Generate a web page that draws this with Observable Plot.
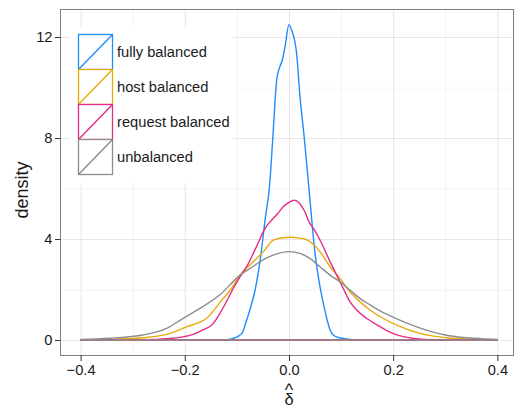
<!DOCTYPE html>
<html>
<head>
<meta charset="utf-8">
<script src="https://cdn.jsdelivr.net/npm/d3@7"></script>
<script src="https://cdn.jsdelivr.net/npm/@observablehq/plot@0.6"></script>
<style>
  html, body { margin: 0; padding: 0; background: #fff; }
  #chart svg { display: block; }
</style>
</head>
<body>
<div id="chart"></div>
<script>
// ---- data ----
const seriesNames = ["fully balanced", "host balanced", "request balanced", "unbalanced"];
const seriesColors = ["#1e8cff", "#e6aa0a", "#e62a89", "#8c8c8c"];

const xFully = [-0.40, -0.13, -0.115, -0.105, -0.095, -0.088, -0.083, -0.075, -0.065, -0.055, -0.045, -0.038, -0.031, -0.0236, -0.0186, -0.0128, -0.0077, 0.0, 0.005, 0.0147, 0.0211, 0.0294, 0.0403, 0.05, 0.0595, 0.066, 0.072, 0.078, 0.085, 0.095, 0.105, 0.115, 0.13, 0.40];
const yFully = [0, 0, 0.02, 0.08, 0.18, 0.35, 0.67, 1.2, 1.98, 3.2, 4.9, 5.94, 8.0, 10.3, 10.76, 11.09, 11.6, 12.49, 12.28, 11.35, 9.64, 8.0, 5.54, 3.43, 2.11, 1.45, 0.9, 0.45, 0.2, 0.1, 0.06, 0.03, 0, 0];

const xHost = [-0.40, -0.34, -0.28, -0.228, -0.196, -0.158, -0.13, -0.11, -0.095, -0.0685, -0.049, -0.03, -0.012, 0.005, 0.021, 0.03, 0.04, 0.0595, 0.079, 0.098, 0.117, 0.136, 0.155, 0.175, 0.207, 0.251, 0.303, 0.35, 0.40];
const yHost = [0, 0.03, 0.09, 0.26, 0.53, 0.86, 1.55, 2.05, 2.55, 3.1, 3.5, 3.96, 4.05, 4.07, 4.03, 4.0, 3.9, 3.5, 2.9, 2.44, 1.91, 1.52, 1.2, 0.92, 0.59, 0.26, 0.09, 0.03, 0.005];

const xRequest = [-0.40, -0.30, -0.26, -0.222, -0.184, -0.165, -0.145, -0.132, -0.12, -0.108, -0.094, -0.08, -0.0685, -0.058, -0.049, -0.04, -0.033, -0.022, -0.011, 0.0, 0.01, 0.02, 0.03, 0.04, 0.047, 0.0595, 0.079, 0.0915, 0.104, 0.117, 0.13, 0.149, 0.175, 0.19, 0.207, 0.24, 0.28, 0.40];
const yRequest = [0, 0, 0.02, 0.07, 0.22, 0.4, 0.66, 1.07, 1.52, 2.0, 2.5, 2.95, 3.43, 3.9, 4.3, 4.6, 4.75, 5.0, 5.28, 5.45, 5.54, 5.42, 5.1, 4.62, 4.42, 3.96, 3.1, 2.57, 2.05, 1.52, 1.19, 0.86, 0.53, 0.35, 0.2, 0.06, 0.01, 0];

const xUnbal = [-0.40, -0.344, -0.28, -0.235, -0.203, -0.171, -0.132, -0.095, -0.07, -0.049, -0.025, 0.0, 0.021, 0.04, 0.0595, 0.079, 0.098, 0.117, 0.136, 0.155, 0.175, 0.207, 0.24, 0.27, 0.30, 0.335, 0.37, 0.40];
const yUnbal = [0.02, 0.07, 0.2, 0.46, 0.86, 1.25, 1.8, 2.55, 2.9, 3.18, 3.4, 3.5, 3.43, 3.23, 2.9, 2.57, 2.31, 1.98, 1.65, 1.4, 1.15, 0.84, 0.56, 0.35, 0.2, 0.1, 0.05, 0.02];

const xTicks = [-0.4, -0.2, 0.0, 0.2, 0.4];
const xMinor = [-0.3, -0.1, 0.1, 0.3];
const yTicks = [0, 4, 8, 12];
const yMinor = [2, 6, 10];
const xTitleHat = "^";
const xTitleSymbol = "δ";
const yTitle = "density";

// ---- build table ----
const xs = [xFully, xHost, xRequest, xUnbal];
const ys = [yFully, yHost, yRequest, yUnbal];
const data = [];
seriesNames.forEach((name, i) => {
  xs[i].forEach((x, j) => data.push({series: name, x, y: ys[i][j]}));
});

const FONT = "'Liberation Sans', Arial, Helvetica, sans-serif";

const chart = Plot.plot({
  width: 515,
  height: 407,
  marginLeft: 60,
  marginRight: 2,
  marginTop: 9,
  marginBottom: 52,
  style: {fontFamily: FONT, fontSize: "14.7px", background: "white", color: "#1a1a1a"},
  x: {domain: [-0.4395, 0.4300], label: null},
  y: {domain: [-0.594, 13.11], label: null},
  color: {domain: seriesNames, range: seriesColors},
  marks: [
    Plot.ruleX(xMinor, {stroke: "#f4f4f4", strokeWidth: 1}),
    Plot.ruleY(yMinor, {stroke: "#f4f4f4", strokeWidth: 1}),
    Plot.ruleX(xTicks, {stroke: "#e6e6e6", strokeWidth: 1}),
    Plot.ruleY(yTicks, {stroke: "#e6e6e6", strokeWidth: 1}),
    Plot.areaY(data, {x: "x", y1: 0, y2: "y", z: "series", fill: "none", stroke: "series", strokeWidth: 1.4, curve: "monotone-x"}),
    Plot.frame({stroke: "#7f7f7f", strokeWidth: 1}),
    Plot.axisX({ticks: xTicks, tickFormat: d3.format(".1f"), tickSize: 6, tickPadding: 3, stroke: "#333", label: null, fontSize: 14.7}),
    Plot.axisY({ticks: yTicks, tickSize: 5, tickPadding: 3, stroke: "#333", label: null, fontSize: 14.7})
  ]
});

document.getElementById("chart").appendChild(chart);

// ---- legend and axis titles ----
const svg = d3.select(chart);
const lg = svg.append("g").attr("font-family", FONT).attr("font-size", 14.7).attr("text-anchor", "start");
lg.append("rect").attr("x", 70).attr("y", 27).attr("width", 163).attr("height", 156).attr("fill", "white");
const keyX = 78.5, keyY = 34.5, keyW = 34, keyH = 35;
seriesNames.forEach((name, i) => {
  const y0 = keyY + i * keyH;
  lg.append("rect").attr("x", keyX).attr("y", y0).attr("width", keyW).attr("height", keyH)
    .attr("fill", "white").attr("stroke", seriesColors[i]).attr("stroke-width", 1.3);
  lg.append("line").attr("x1", keyX).attr("y1", y0 + keyH).attr("x2", keyX + keyW).attr("y2", y0)
    .attr("stroke", seriesColors[i]).attr("stroke-width", 1.4);
  lg.append("text").attr("x", 117).attr("y", y0 + keyH / 2).attr("dy", "0.35em")
    .attr("text-anchor", "start").attr("fill", "#1a1a1a").text(name);
});

const xt = svg.append("text").attr("text-anchor", "middle").attr("font-family", FONT).attr("fill", "#1a1a1a");
xt.append("tspan").attr("x", 289).attr("y", 396).attr("font-size", 18).text(xTitleHat);
xt.append("tspan").attr("x", 289).attr("y", 405).attr("font-size", 16.5).text(xTitleSymbol);
svg.append("text").attr("transform", "translate(28,190) rotate(-90)").attr("text-anchor", "middle")
  .attr("font-family", FONT).attr("font-size", 18).attr("fill", "#1a1a1a").text(yTitle);
</script>
</body>
</html>
